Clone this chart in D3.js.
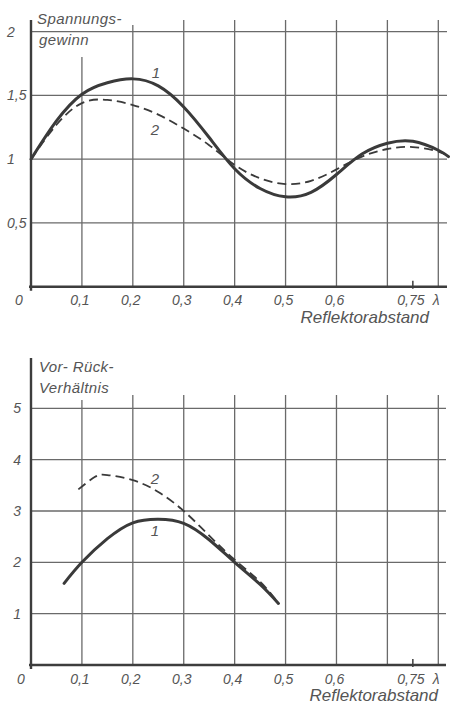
<!DOCTYPE html>
<html>
<head>
<meta charset="utf-8">
<script src="https://cdn.jsdelivr.net/npm/d3@7"></script>
<style>
  html, body { margin: 0; padding: 0; background: #fff; }
  svg { display: block; }
  .lbl { font-family: "Liberation Sans", Arial, sans-serif; font-style: italic; fill: #555; }
  .tick { font-family: "Liberation Sans Narrow", "Liberation Sans", Arial, sans-serif; font-style: italic; fill: #555; }
</style>
</head>
<body>
<script>
// ---------- data ----------
const xGrid = [0.1, 0.2, 0.3, 0.4, 0.5, 0.6, 0.7, 0.8];
const xTickValues = [0.1, 0.2, 0.3, 0.4, 0.5, 0.6, 0.75, 0.8];
const xTickLabels = ["0,1", "0,2", "0,3", "0,4", "0,5", "0,6", "0,75", "λ"];

const gainTicks = [0.5, 1, 1.5, 2];
const gainTickLabels = ["0,5", "1", "1,5", "2"];
const ratioTicks = [1, 2, 3, 4, 5];
const ratioTickLabels = ["1", "2", "3", "4", "5"];

// Spannungsgewinn, curve 1 (solid) and curve 2 (dashed)
const gainX1 = [0, 0.05, 0.1, 0.15, 0.2, 0.25, 0.3, 0.35, 0.4, 0.45, 0.5, 0.55, 0.6, 0.65, 0.7, 0.75, 0.8, 0.82];
const gainY1 = [1.0, 1.30, 1.51, 1.60, 1.63, 1.575, 1.41, 1.17, 0.925, 0.77, 0.705, 0.74, 0.88, 1.04, 1.125, 1.14, 1.07, 1.02];
const gainX2 = [0, 0.05, 0.1, 0.15, 0.2, 0.25, 0.3, 0.35, 0.4, 0.45, 0.5, 0.55, 0.6, 0.65, 0.7, 0.75, 0.8, 0.82];
const gainY2 = [1.0, 1.27, 1.44, 1.465, 1.425, 1.35, 1.24, 1.11, 0.955, 0.85, 0.805, 0.83, 0.92, 1.02, 1.08, 1.095, 1.06, 1.02];

// Vor-Rück-Verhältnis
const ratioX1 = [0.065, 0.1, 0.15, 0.2, 0.25, 0.3, 0.35, 0.4, 0.45, 0.486];
const ratioY1 = [1.59, 2.0, 2.46, 2.77, 2.84, 2.76, 2.44, 2.0, 1.57, 1.2];
const ratioX2 = [0.093, 0.125, 0.15, 0.2, 0.25, 0.3, 0.35, 0.4, 0.45, 0.48];
const ratioY2 = [3.42, 3.66, 3.70, 3.60, 3.37, 3.0, 2.52, 2.05, 1.62, 1.28];

// ---------- drawing ----------
const W = 452, H = 705;
const svg = d3.select("body").append("svg").attr("width", W).attr("height", H);

const x = d3.scaleLinear().domain([0, 0.8]).range([31, 438.3]);
const yTop = d3.scaleLinear().domain([0, 2]).range([286.7, 31.7]);
const yBot = d3.scaleLinear().domain([0, 5]).range([665, 408.3]);

const gridColor = "#6a6a6a", axisColor = "#3d3d3d", curveColor = "#3a3a3a";

function panel(opts) {
  const g = svg.append("g");
  const y = opts.y;
  const y0 = y(0);
  // vertical grid
  g.selectAll("line.vg").data(xGrid).enter().append("line")
    .attr("x1", d => x(d)).attr("x2", d => x(d))
    .attr("y1", d => opts.vTop(d)).attr("y2", y0)
    .attr("stroke", gridColor).attr("stroke-width", 1.3);
  // horizontal grid
  g.selectAll("line.hg").data(opts.yTicks).enter().append("line")
    .attr("x1", x(0)).attr("x2", opts.right)
    .attr("y1", d => y(d)).attr("y2", d => y(d))
    .attr("stroke", gridColor).attr("stroke-width", 1.3);
  // axes
  g.append("line").attr("x1", x(0) - 2).attr("x2", opts.right)
    .attr("y1", y0).attr("y2", y0).attr("stroke", axisColor).attr("stroke-width", 2.4);
  g.append("line").attr("x1", x(0)).attr("x2", x(0))
    .attr("y1", opts.axisTop).attr("y2", y0 + 4).attr("stroke", axisColor).attr("stroke-width", 2.4);
  // 0.75 tick mark
  g.append("line").attr("x1", x(0.75)).attr("x2", x(0.75))
    .attr("y1", y0 - 6).attr("y2", y0 + 2).attr("stroke", axisColor).attr("stroke-width", 1.5);
  // y tick labels
  g.selectAll("text.yt").data(opts.yTicks).enter().append("text")
    .attr("class", "tick")
    .attr("x", opts.yLabelX).attr("text-anchor", opts.yAnchor)
    .attr("y", d => y(d) + 5)
    .attr("font-size", 14)
    .text((d, i) => opts.yLabels[i]);
  // origin label
  g.append("text").attr("class", "tick").attr("x", opts.zeroX).attr("y", y0 + 18.5)
    .attr("font-size", 14).attr("text-anchor", "middle").text("0");
  // x tick labels
  g.selectAll("text.xt").data(xTickValues).enter().append("text")
    .attr("class", "tick")
    .attr("x", d => x(d) - 2).attr("y", y0 + 18.5)
    .attr("text-anchor", "middle").attr("font-size", 14)
    .text((d, i) => xTickLabels[i]);
  // x title
  g.append("text").attr("class", "lbl").attr("x", opts.xTitleX).attr("y", y0 + opts.xTitleDy)
    .attr("text-anchor", "end").attr("font-size", 17).text("Reflektorabstand");
  // y title
  opts.yTitle.forEach((t, i) => {
    g.append("text").attr("class", "lbl").attr("x", opts.yTitleX[i]).attr("y", opts.yTitleY[i])
      .attr("font-size", 15).attr("letter-spacing", 0.4).text(t);
  });
  // curves
  const line = d3.line().x(d => x(d[0])).y(d => y(d[1])).curve(d3.curveNatural);
  g.append("path").datum(d3.zip(opts.x2, opts.y2)).attr("d", line)
    .attr("fill", "none").attr("stroke", curveColor).attr("stroke-width", 1.8)
    .attr("stroke-dasharray", "9,5");
  g.append("path").datum(d3.zip(opts.x1, opts.y1)).attr("d", line)
    .attr("fill", "none").attr("stroke", curveColor).attr("stroke-width", 3)
    .attr("stroke-linecap", "round");
  // curve labels
  opts.curveLabels.forEach(c => {
    g.append("text").attr("class", "tick").attr("x", c.x).attr("y", c.y)
      .attr("font-size", 15).attr("text-anchor", "middle").text(c.t);
  });
}

panel({
  y: yTop, yTicks: gainTicks, yLabels: gainTickLabels,
  yLabelX: 7, yAnchor: "start", zeroX: 19,
  right: 447, axisTop: 20,
  vTop: d => d === 0.1 ? 57 : (d === 0.2 ? 25 : 20),
  xTitleX: 429, xTitleDy: 36,
  yTitle: ["Spannungs-", "gewinn"], yTitleX: [37, 39], yTitleY: [24, 45],
  x1: gainX1, y1: gainY1, x2: gainX2, y2: gainY2,
  curveLabels: [{t: "1", x: 156, y: 78}, {t: "2", x: 155, y: 135}]
});

panel({
  y: yBot, yTicks: ratioTicks, yLabels: ratioTickLabels,
  yLabelX: 21, yAnchor: "end", zeroX: 21,
  right: 446, axisTop: 358,
  vTop: d => d === 0.1 ? 400 : 395,
  xTitleX: 438, xTitleDy: 36,
  yTitle: ["Vor- Rück-", "Verhältnis"], yTitleX: [39, 39], yTitleY: [372, 393],
  x1: ratioX1, y1: ratioY1, x2: ratioX2, y2: ratioY2,
  curveLabels: [{t: "2", x: 155, y: 484}, {t: "1", x: 155, y: 536}]
});
</script>
</body>
</html>
